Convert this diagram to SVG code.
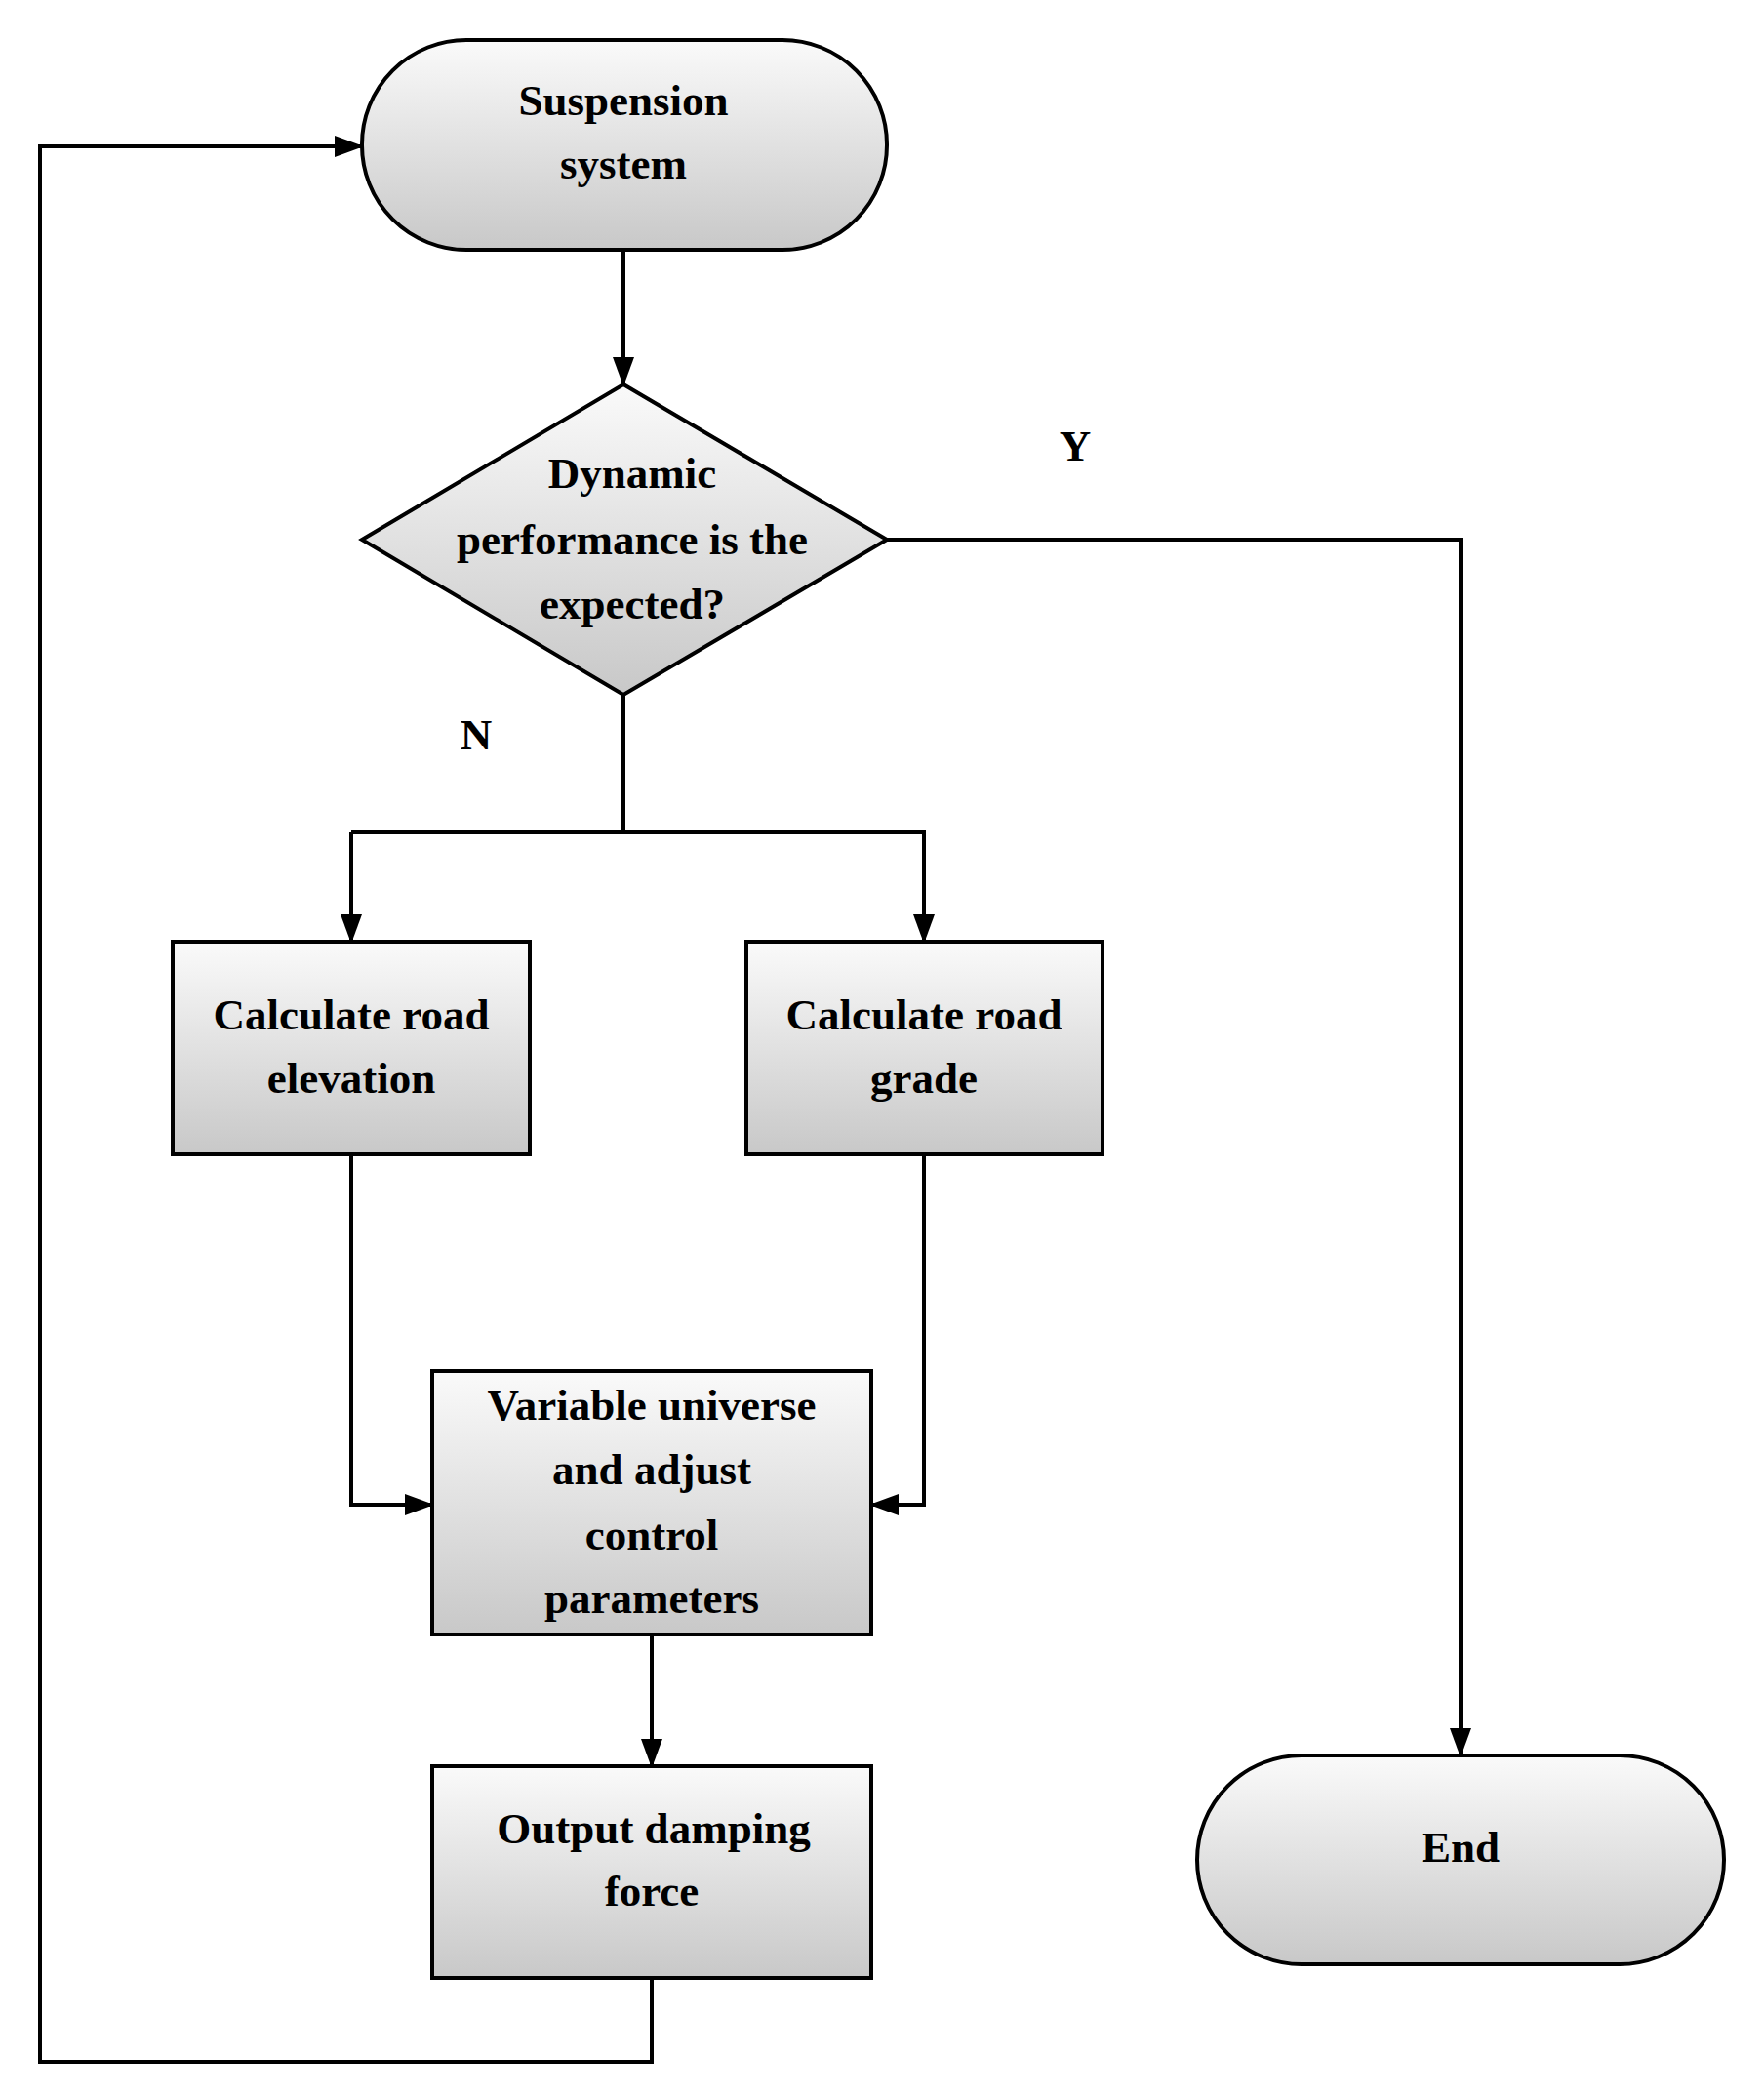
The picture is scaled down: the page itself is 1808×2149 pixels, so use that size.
<svg xmlns="http://www.w3.org/2000/svg" width="1808" height="2149" viewBox="0 0 1808 2149">
<defs>
<linearGradient id="g" x1="0" y1="0" x2="0" y2="1"><stop offset="0" stop-color="#fafafa"/><stop offset="1" stop-color="#c8c8c8"/></linearGradient>
<marker id="a" markerWidth="10" markerHeight="10" refX="9" refY="5" orient="auto" markerUnits="userSpaceOnUse" viewBox="0 0 10 10"><path d="M0,0 L10,5 L0,10 z" fill="#000"/></marker>
<marker id="ab" markerWidth="30" markerHeight="30" refX="28" refY="15" orient="auto" markerUnits="userSpaceOnUse" viewBox="0 0 30 30"><path d="M0,4 L30,15 L0,26 z" fill="#000"/></marker>
</defs>
<style>
.n{fill:url(#g);stroke:#000;stroke-width:4}
text{font-family:"Liberation Serif",serif;font-weight:bold;font-size:45px;text-anchor:middle;fill:#000}
.c{fill:none;stroke:#000;stroke-width:4;marker-end:url(#ab)}
.l{fill:none;stroke:#000;stroke-width:4}
</style>
<rect width="1808" height="2149" fill="#fff"/>
<g id="connectors">
<path class="c" d="M639,256 V394"/>
<path class="l" d="M639,712 V853 H360"/>
<path class="c" d="M360,853 V965"/>
<path class="c" d="M639,853 H947 V965"/>
<path class="c" d="M360,1183 V1542 H443"/>
<path class="c" d="M947,1183 V1542 H893"/>
<path class="c" d="M668,1675 V1810"/>
<path class="c" d="M909,553 H1497 V1799"/>
<path class="c" d="M668,2027 V2113 H41 V150 H371"/>
<text x="1102" y="472" font-size="58">Y</text>
<text x="488" y="768" font-size="58">N</text>
</g>
<g id="start"><rect class="n" x="371" y="41" width="538" height="215" rx="107"/><text x="639" y="118">Suspension</text><text x="639" y="183">system</text></g>
<g id="decision"><path class="n" d="M639,394 L909,553 L639,712 L371,553 Z"/><text x="648" y="500">Dynamic</text><text x="648" y="568">performance is the</text><text x="648" y="634">expected?</text></g>
<g id="elev"><rect class="n" x="177" y="965" width="366" height="218"/><text x="360" y="1055">Calculate road</text><text x="360" y="1120">elevation</text></g>
<g id="grade"><rect class="n" x="765" y="965" width="365" height="218"/><text x="947" y="1055">Calculate road</text><text x="947" y="1120">grade</text></g>
<g id="variable"><rect class="n" x="443" y="1405" width="450" height="270"/><text x="668" y="1455">Variable universe</text><text x="668" y="1521">and adjust</text><text x="668" y="1588">control</text><text x="668" y="1653">parameters</text></g>
<g id="output"><rect class="n" x="443" y="1810" width="450" height="217"/><text x="670" y="1889">Output damping</text><text x="668" y="1953">force</text></g>
<g id="end"><rect class="n" x="1227" y="1799" width="540" height="214" rx="107"/><text x="1497" y="1908">End</text></g>
</svg>
